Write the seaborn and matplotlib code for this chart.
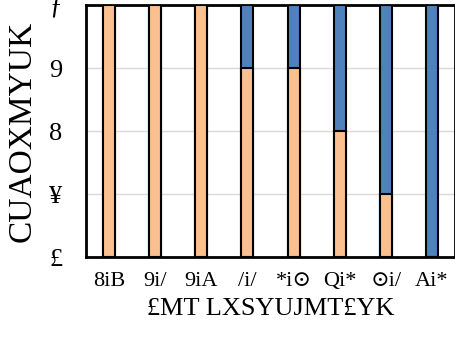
import matplotlib
matplotlib.use('Agg')
import pandas as pd
import seaborn as sns
import matplotlib.pyplot as plt

# Data
categories = ["8iB", "9i/", "9iA", "/i/", "*i⊙", "Qi*", "⊙i/", "Ai*"]
orange_vals = [4, 4, 4, 3, 3, 2, 1, 0]
blue_vals = [0, 0, 0, 1, 1, 2, 3, 4]
y_ticks = [0, 1, 2, 3, 4]
y_tick_labels = ["£", "¥", "8", "9", "ƒ"]
x_title = "£MT LXSYUJMT£YK"
y_title = "CUAOXMYUK"

df = pd.DataFrame({
    "cat": categories,
    "orange": orange_vals,
    "total": [o + b for o, b in zip(orange_vals, blue_vals)],
})

sns.set_style("white")
plt.rcParams['font.family'] = ['Liberation Serif', 'DejaVu Serif']
plt.rcParams['text.color'] = 'black'
plt.rcParams['xtick.color'] = 'black'
plt.rcParams['ytick.color'] = 'black'
plt.rcParams['axes.labelcolor'] = 'black'

fig = plt.figure(figsize=(4.56, 3.41), dpi=100)
ax = fig.add_axes([0.1886, 0.2463, 0.8094, 0.739])

# stacked: draw totals in blue, then the orange part over it
sns.barplot(data=df, x="cat", y="total", color="#4F81BD", saturation=1,
            width=0.26, edgecolor="black", linewidth=1.5, ax=ax, zorder=3)
sns.barplot(data=df, x="cat", y="orange", color="#FAC08F", saturation=1,
            width=0.26, edgecolor="black", linewidth=1.5, ax=ax, zorder=4)

ax.set_ylim(0, 4)
ax.set_xlim(-0.5, 7.5)
ax.set_yticks(y_ticks)
ax.set_yticklabels(y_tick_labels)
ax.yaxis.grid(True, color="#d9d9d9", linewidth=1)
ax.set_axisbelow(True)
ax.tick_params(axis="y", length=0, pad=17, labelsize=19)
ax.tick_params(axis="x", length=0, pad=11, labelsize=16)

for s in ax.spines.values():
    s.set_color("black")
    s.set_linewidth(2)

ax.set_xlabel(x_title, fontsize=19, labelpad=5)
ax.set_ylabel(y_title, fontsize=24, labelpad=8)

plt.savefig("out.png", dpi=100)
